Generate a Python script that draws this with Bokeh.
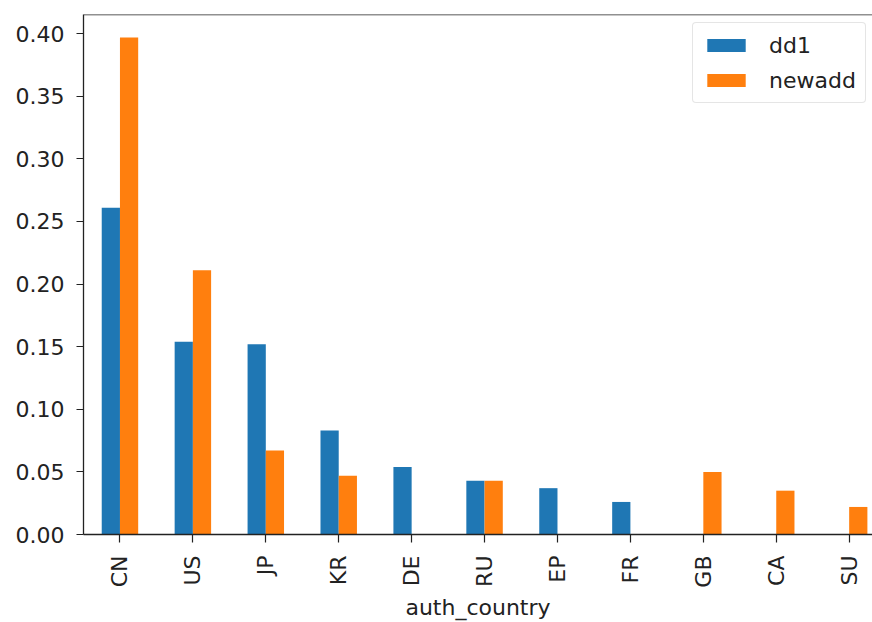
from bokeh.plotting import figure
from bokeh.models import (ColumnDataSource, Range1d, FixedTicker, PrintfTickFormatter,
                          Legend, LegendItem, Span)
from bokeh.embed import file_html
from bokeh.resources import INLINE
import math

# Share of records by authority country, two datasets
countries = ["CN", "US", "JP", "KR", "DE", "RU", "EP", "FR", "GB", "CA", "SU"]
dd1 = [0.261, 0.154, 0.152, 0.083, 0.054, 0.043, 0.037, 0.026, 0.0, 0.0, 0.0]
newadd = [0.397, 0.211, 0.067, 0.047, 0.0, 0.043, 0.0, 0.0, 0.050, 0.035, 0.022]
y_ticks = [0.0, 0.05, 0.10, 0.15, 0.20, 0.25, 0.30, 0.35, 0.40]

BLUE = "#1f77b4"
ORANGE = "#ff7f0e"
FONT = "DejaVu Sans"
FS = "22px"
INK = "#222222"

bar_w = 0.25
pos = list(range(len(countries)))
src = ColumnDataSource(dict(
    x1=[i - bar_w / 2 for i in pos],
    x2=[i + bar_w / 2 for i in pos],
    dd1=dd1,
    newadd=newadd,
))

p = figure(width=872, height=622, output_backend="svg", toolbar_location=None,
           x_range=Range1d(-0.5, 10.32), y_range=Range1d(0, 0.4153),
           min_border_left=83, min_border_right=0, min_border_top=14,
           min_border_bottom=88)
p.outline_line_color = None
p.xgrid.grid_line_color = None
p.ygrid.grid_line_color = None
p.background_fill_color = "white"
p.border_fill_color = "white"

r1 = p.vbar(x="x1", top="dd1", width=bar_w, source=src, fill_color=BLUE, line_color=None)
r2 = p.vbar(x="x2", top="newadd", width=bar_w, source=src, fill_color=ORANGE, line_color=None)

# top spine
p.add_layout(Span(location=0.4153, dimension="width", line_color=INK, line_width=1.6))

xa = p.xaxis[0]
xa.ticker = FixedTicker(ticks=pos)
xa.major_label_overrides = {i: c for i, c in enumerate(countries)}
xa.major_label_orientation = math.pi / 2
xa.axis_label = "auth_country"
xa.minor_tick_line_color = None
xa.major_tick_in = 0
xa.major_tick_out = 8
xa.major_label_standoff = 13
xa.axis_label_standoff = 4

ya = p.yaxis[0]
ya.ticker = FixedTicker(ticks=y_ticks)
ya.formatter = PrintfTickFormatter(format="%.2f")
ya.minor_tick_line_color = None
ya.major_tick_in = 0
ya.major_tick_out = 7
ya.major_label_standoff = 12

for ax in (xa, ya):
    ax.axis_line_color = INK
    ax.axis_line_width = 1.3
    ax.major_tick_line_color = INK
    ax.major_tick_line_width = 1.2
    ax.major_label_text_font = FONT
    ax.major_label_text_font_size = FS
    ax.major_label_text_color = INK
    ax.axis_label_text_font = FONT
    ax.axis_label_text_font_size = FS
    ax.axis_label_text_font_style = "normal"
    ax.axis_label_text_color = INK

legend = Legend(items=[LegendItem(label="dd1", renderers=[r1]),
                       LegendItem(label="newadd", renderers=[r2])],
                location=(609, 431), margin=0, padding=9, spacing=9,
                glyph_width=48, glyph_height=16, label_height=26,
                label_standoff=19, label_text_font=FONT, label_text_font_size=FS,
                label_text_color=INK, border_line_color="#cccccc",
                border_line_width=1, border_radius=4,
                background_fill_color="white", background_fill_alpha=0.8)
p.add_layout(legend)

open("out.html", "w").write(file_html(p, INLINE))
